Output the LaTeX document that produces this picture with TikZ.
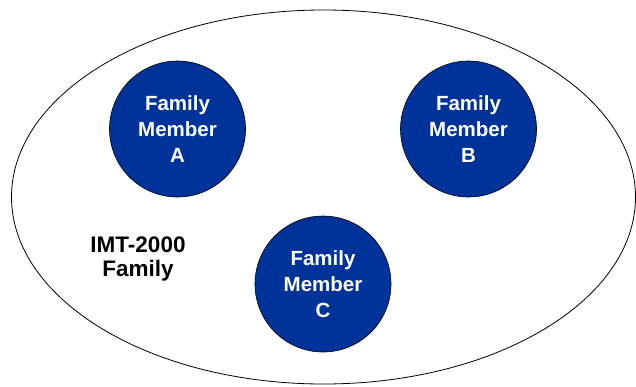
\documentclass[tikz,border=0pt]{standalone}
\usepackage{fontspec}
\setmainfont{Liberation Sans}
\usetikzlibrary{shapes.geometric}
\definecolor{memberblue}{RGB}{0,51,153}
\tikzset{
  member/.style={circle, draw=black, line width=0.6pt, fill=memberblue, minimum size=136pt, inner sep=0pt,
    text=white, align=center, font=\bfseries\fontsize{20.5}{25.8}\selectfont},
  familylabel/.style={align=center, inner sep=0pt, font=\bfseries\fontsize{22.5}{23.5}\selectfont},
  outer/.style={ellipse, draw=black, line width=0.8pt, minimum width=624pt, minimum height=374pt, inner sep=0pt}
}
\begin{document}
\begin{tikzpicture}[x=1pt,y=-1pt]
\useasboundingbox (0,0) rectangle (636,386);
\clip (0,0) rectangle (636,386);
\node[outer] (fam) at (323.5,197) {};
\node[member] (a) at (177.5,129) {Family\\Member\\A};
\node[member] (b) at (468.5,129) {Family\\Member\\B};
\node[member] (c) at (323,284) {Family\\Member\\C};
\node[familylabel] (lbl) at (138,259) {IMT-2000\\Family};
\end{tikzpicture}
\end{document}
